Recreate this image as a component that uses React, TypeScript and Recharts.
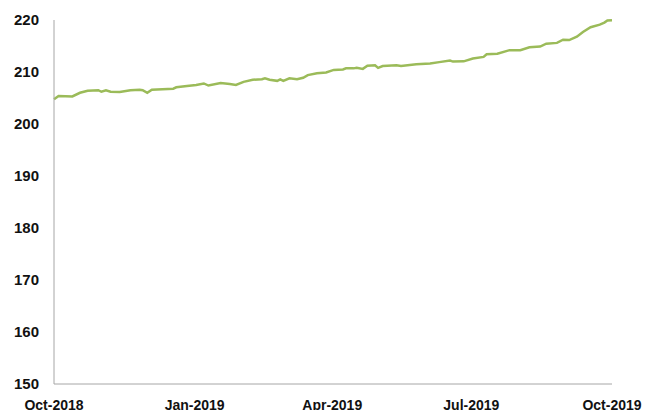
import { Line, LineChart, XAxis, YAxis } from "recharts";

// days since 1 Oct 2018
const dayOffsets = [
  0, 3, 12, 17, 22, 29, 31, 34, 37, 43, 50, 56, 58, 61, 64, 71, 78, 80, 87, 93,
  98, 101, 109, 115, 119, 124, 130, 136, 138, 141, 146, 148, 150, 154, 159, 163,
  166, 172, 178, 183, 189, 191, 196, 198, 202, 205, 210, 212, 215, 224, 227, 237,
  246, 252, 259, 261, 268, 274, 281, 283, 290, 298, 305, 311, 318, 322, 329, 333,
  337, 342, 346, 351, 357, 360, 362, 365,
];

const indexValues = [
  204.75, 205.4, 205.3, 206.0, 206.4, 206.5, 206.2, 206.5, 206.2, 206.15, 206.5,
  206.6, 206.5, 206.0, 206.6, 206.7, 206.8, 207.05, 207.3, 207.5, 207.8, 207.4,
  207.9, 207.7, 207.5, 208.1, 208.5, 208.6, 208.8, 208.5, 208.3, 208.6, 208.3,
  208.8, 208.6, 208.9, 209.4, 209.75, 209.9, 210.4, 210.5, 210.7, 210.7, 210.8,
  210.6, 211.2, 211.3, 210.8, 211.15, 211.3, 211.15, 211.5, 211.65, 211.9, 212.2,
  212.0, 212.05, 212.6, 212.9, 213.4, 213.5, 214.2, 214.2, 214.75, 214.9, 215.45,
  215.6, 216.2, 216.15, 216.8, 217.7, 218.6, 219.1, 219.5, 219.9, 219.95,
];

const xTickDays = [0, 92, 182, 273, 365];
const xTickLabels = ["Oct-2018", "Jan-2019", "Apr-2019", "Jul-2019", "Oct-2019"];
const yTicks = [150, 160, 170, 180, 190, 200, 210, 220];

const data = dayOffsets.map((day, i) => ({ day, value: indexValues[i] }));

const tickStyle = {
  fontFamily: "'Liberation Sans', Arial, sans-serif",
  fontWeight: 700,
  fill: "#111",
};

export default function App() {
  return (
    <div style={{ position: "absolute", left: 0, top: 0 }}>
      <LineChart
        width={646}
        height={420}
        data={data}
        margin={{ top: 20, right: 34, left: 0, bottom: 6 }}
      >
        <XAxis
          type="number"
          dataKey="day"
          domain={[0, 365]}
          ticks={xTickDays}
          tickFormatter={(v) => xTickLabels[xTickDays.indexOf(v)] ?? ""}
          tick={{ ...tickStyle, fontSize: 14 }}
          tickLine={false}
          tickSize={0}
          tickMargin={16}
          height={30}
          stroke="#a6a6a6"
          interval={0}
        />
        <YAxis
          type="number"
          domain={[150, 220]}
          ticks={yTicks}
          tick={{ ...tickStyle, fontSize: 15 }}
          tickLine={false}
          tickSize={0}
          tickMargin={15}
          width={54}
          stroke="#a6a6a6"
          interval={0}
        />
        <Line
          type="linear"
          dataKey="value"
          stroke="#9bbb59"
          strokeWidth={2.5}
          dot={false}
          isAnimationActive={false}
        />
      </LineChart>
    </div>
  );
}
